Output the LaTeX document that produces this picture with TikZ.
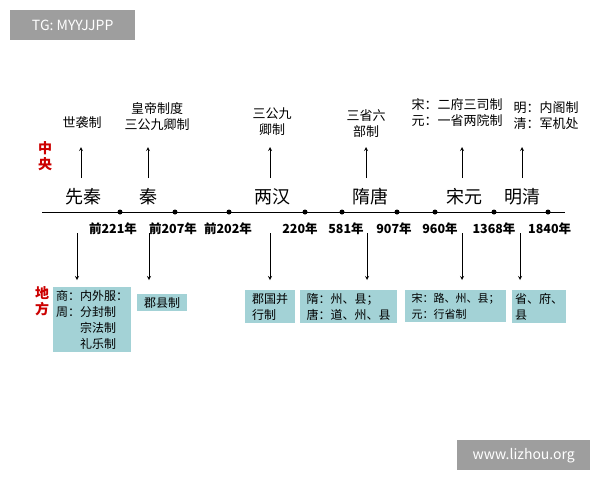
\documentclass[tikz,border=0pt]{standalone}
\usepackage{fontspec}
\setmainfont{Noto Sans CJK SC}
\usetikzlibrary{positioning}
\definecolor{boxblue}{HTML}{A3D2D6}
\definecolor{wmgray}{HTML}{9E9E9E}
\tikzset{period/.style={font=\fontsize{18}{20}\selectfont},
         year/.style={font=\fontsize{12.5}{14}\selectfont\bfseries,inner sep=1pt},
         note/.style={font=\fontsize{13}{16}\selectfont,align=center,inner sep=0pt},
         local/.style={fill=boxblue,font=\fontsize{12}{16}\selectfont,align=left,anchor=north west,inner sep=3pt},
         side/.style={text=red!80!black,font=\fontsize{14}{16}\selectfont\bfseries,align=center},
         dot/.style={circle,fill=black,inner sep=0pt,minimum size=5pt},
         arrow/.style={->,>=stealth,thick}
}
\begin{document}
\begin{tikzpicture}[x=1pt,y=-1pt]
\useasboundingbox[fill=white] (0,0) rectangle (600,480);

% watermarks
\node[fill=wmgray,text=white,minimum width=125pt,minimum height=30pt,anchor=north west,font=\fontsize{14}{16}\selectfont] (tg) at (10,10) {TG: MYYJJPP};
\node[fill=wmgray,text=white,minimum width=133pt,minimum height=30pt,anchor=north west,font=\fontsize{14}{16}\selectfont] (web) at (457,440) {www.lizhou.org};

% timeline
\coordinate (lstart) at (42,212);
\coordinate (lend) at (565,212);
\draw[thick] (lstart)--(lend);
\foreach \x in {120,175,229,305,342,397,435,494,548}
  \node[dot] at (\x,212) {};

% periods
\node[period] (xq) at (83,197) {先秦};
\node[period] (qin) at (148,197) {秦};
\node[period] (han) at (272,197) {两汉};
\node[period] (st) at (370,197) {隋唐};
\node[period] (sy) at (464,197) {宋元};
\node[period] (mq) at (522,197) {明清};

% years
\node[year] (y1) at (113,229) {前221年};
\node[year] (y2) at (173,229) {前207年};
\node[year] (y3) at (228,229) {前202年};
\node[year] (y4) at (300,229) {220年};
\node[year] (y5) at (346,229) {581年};
\node[year] (y6) at (394,229) {907年};
\node[year] (y7) at (440,229) {960年};
\node[year] (y8) at (494,229) {1368年};
\node[year,anchor=west] (y9) at (527,229) {1840年};

% central
\node[side] (zy) at (45,156) {中\\央};
\node[note] (c1) at (82,123) {世袭制};
\node[note] (c2) at (157,117) {皇帝制度\\三公九卿制};
\node[note] (c3) at (272,122) {三公九\\卿制};
\node[note] (c4) at (366,124) {三省六\\部制};
\node[note] (c5) at (457,112) {宋：二府三司制\\元：一省两院制};
\node[note] (c6) at (546,116) {明：内阁制\\清：军机处};
\foreach \x/\c in {81/c1,148/c2,270/c3,366/c4,462/c5,522/c6}{
  \coordinate (up\c) at (\x,178);
  \draw[arrow] (up\c)--(\x,147);
}

% local
\node[side] (df) at (42,301) {地\\方};
\node[local] (d1) at (53,287) {商：内外服：\\周：分封制\\\phantom{周：}宗法制\\\phantom{周：}礼乐制};
\node[local,minimum width=50pt] (d2) at (137,294) {郡县制};
\node[local,minimum width=50pt] (d3) at (245,290) {郡国并\\行制};
\node[local,minimum width=97pt] (d4) at (300,290) {隋：州、县；\\唐：道、州、县};
\node[local,minimum width=101pt,font=\fontsize{11}{16}\selectfont] (d5) at (405,290) {宋：路、州、县；\\元：行省制};
\node[local,minimum width=54pt] (d6) at (512,290) {省、府、\\县};
\foreach \x/\d in {77/d1,149/d2,270/d3,367/d4,462/d5,520/d6}{
  \coordinate (dn\d) at (\x,233);
  \draw[arrow] (dn\d)--(\x,280);
}
\end{tikzpicture}
\end{document}
